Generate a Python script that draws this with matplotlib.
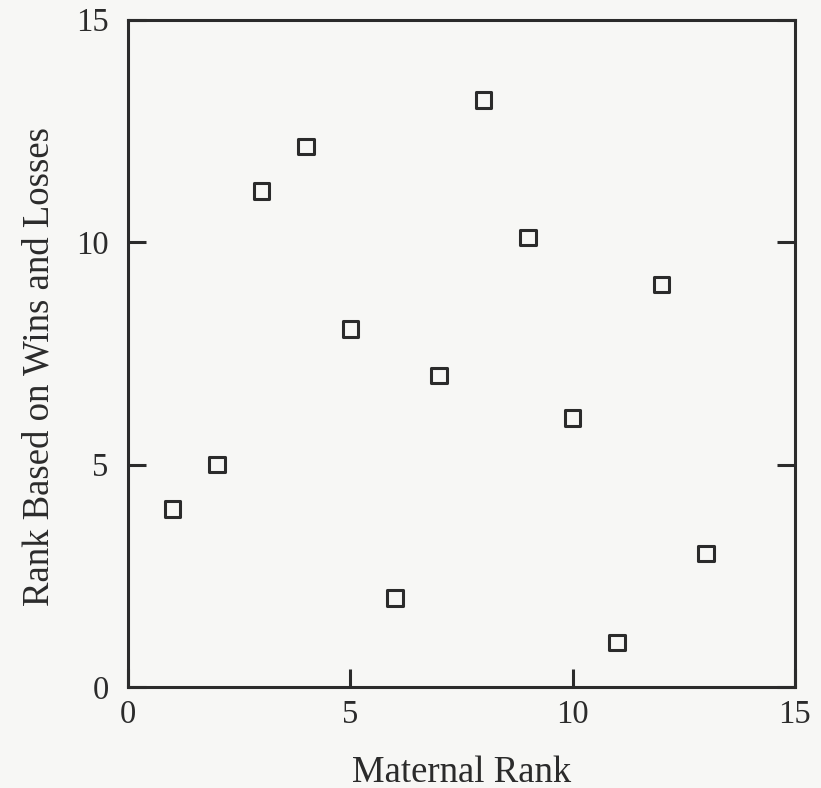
import matplotlib.pyplot as plt

# maternal rank vs rank based on wins and losses
maternal_rank = [1, 2, 3, 4, 5, 6, 7, 8, 9, 10, 11, 12, 13]
win_loss_rank = [4, 5, 11.15, 12.15, 8.05, 2, 7, 13.2, 10.1, 6.05, 1, 9.05, 3]

ink = '#2b2b2b'
plt.rcParams['font.family'] = ['Liberation Serif', 'DejaVu Serif']

fig = plt.figure(figsize=(8.21, 7.88), dpi=100, facecolor='#f7f7f5')
ax = fig.add_axes([0.156, 0.128, 0.812, 0.847])
ax.set_facecolor('#f7f7f5')

ax.scatter(maternal_rank, win_loss_rank, marker='s', s=125,
           facecolors='none', edgecolors=ink, linewidths=2.2, zorder=3)

ax.set_xlim(0, 15)
ax.set_ylim(0, 15)
ax.set_xticks([0, 5, 10, 15])
ax.set_yticks([0, 5, 10, 15])

for s in ax.spines.values():
    s.set_linewidth(2.2)
    s.set_color(ink)

ax.tick_params(axis='both', direction='in', length=13, width=2.2,
               color=ink, labelcolor=ink, labelsize=23.5)
ax.tick_params(axis='y', right=True, pad=14)
ax.tick_params(axis='x', pad=9)

ax.set_xlabel('Maternal Rank', fontsize=26.5, color=ink, labelpad=18)
ax.set_ylabel('Rank Based on Wins and Losses', fontsize=26.5, color=ink)
ax.yaxis.set_label_coords(-0.108, 0.48)

fig.savefig('out.png', dpi=100, facecolor=fig.get_facecolor())
